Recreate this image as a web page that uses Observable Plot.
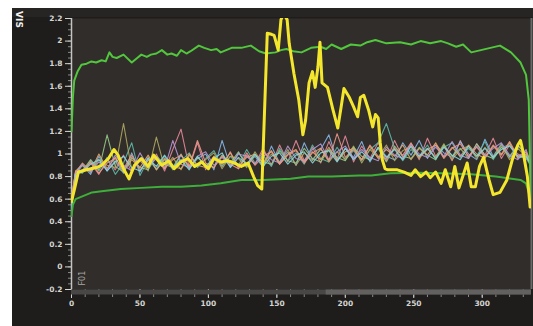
<!DOCTYPE html>
<html><head><meta charset="utf-8">
<script src="https://cdn.jsdelivr.net/npm/d3@7"></script>
<script src="https://cdn.jsdelivr.net/npm/@observablehq/plot@0.6"></script>
<style>
html,body{margin:0;padding:0;background:#fff;}
#wrap{position:relative;width:533px;height:326px;overflow:hidden;background:#1e1d1b;}
#wrap svg{position:absolute;left:0;top:0;z-index:1;}
.wt{position:absolute;left:0;top:0;width:533px;height:8px;background:#fff;z-index:3;}
.wl{position:absolute;left:0;top:0;width:12px;height:326px;background:#fff;z-index:3;}
.band{position:absolute;left:12px;top:8px;width:521px;height:9px;background:#262523;z-index:0;}
</style>
</head><body>
<div id="wrap"><div class="wt"></div><div class="wl"></div><div class="band"></div></div>
<script>
// ---- tick labels ----
const yTicks = [-0.2,0,0.2,0.4,0.6,0.8,1,1.2,1.4,1.6,1.8,2,2.2];
const xTicks = [0,50,100,150,200,250,300];

// ---- thin noisy series (shared x) ----
const thinX = [0,3,8,14,20,26,32,38,44,50,56,62,68,74,80,86,92,98,104,110,116,122,128,134,140,146,152,158,164,170,176,182,188,194,200,206,212,218,224,230,236,242,248,254,260,266,272,278,284,290,296,302,308,314,320,326,332,335];
const thinColors = ["#e8889a","#88b8e8","#60b8a8","#b0a860","#e8a868","#98c888","#b898d8","#f09888","#88d8e0"];
const s1 = [0.58,0.83,0.86,0.92,0.82,0.95,0.86,0.99,0.84,0.94,0.87,1.00,0.85,1.04,1.22,0.88,1.10,0.86,0.98,0.89,1.02,0.87,0.99,0.91,1.05,0.90,1.08,0.93,1.12,0.94,1.06,0.92,1.11,0.95,1.16,0.93,1.07,0.96,1.10,0.94,1.12,0.97,1.08,0.95,1.14,0.98,1.07,0.94,1.12,0.97,1.09,0.99,1.14,0.96,1.08,1.00,0.96,0.92];
const s2 = [0.52,0.82,0.90,0.82,0.98,0.85,0.94,0.83,1.01,0.84,0.97,0.86,0.95,0.87,0.99,0.88,0.96,1.00,0.86,1.12,0.89,1.01,0.91,0.98,0.88,1.07,0.92,1.02,0.90,1.10,0.95,1.04,1.17,0.94,1.05,0.97,1.11,0.93,1.06,0.98,0.95,1.10,0.99,1.12,0.96,1.08,1.01,0.97,1.11,1.00,0.95,1.13,0.98,1.09,0.97,1.07,1.01,0.94];
const s3 = [0.55,0.84,0.83,0.94,0.85,0.97,0.82,0.92,1.10,0.81,0.95,0.87,0.98,0.86,0.94,1.01,0.88,0.96,1.03,0.89,0.98,0.90,1.04,0.92,0.99,0.89,1.05,0.94,1.01,0.91,1.08,0.96,0.93,1.06,0.95,1.03,0.94,1.04,1.10,1.27,1.05,0.94,1.04,0.98,1.08,0.95,1.06,1.10,0.97,1.05,0.98,1.11,0.95,1.06,1.08,0.97,0.97,0.90];
const s4 = [0.60,0.85,0.90,0.84,0.95,0.90,0.88,1.27,0.86,0.96,0.85,1.15,0.88,0.97,0.86,0.99,0.89,0.95,1.01,0.87,0.98,0.96,0.88,1.02,0.91,1.00,0.93,1.04,0.90,1.01,0.94,1.05,0.93,1.02,0.95,1.07,0.92,1.04,0.97,1.08,0.94,1.03,1.06,0.96,1.05,0.97,1.09,0.95,1.04,1.07,0.96,1.06,0.97,1.08,0.95,1.05,0.98,0.93];
const s5 = [0.62,0.84,0.92,0.85,1.00,0.87,0.97,0.84,0.95,0.88,0.99,0.86,0.96,0.89,0.87,1.00,0.90,0.88,0.98,0.91,1.01,0.89,0.97,1.00,0.92,1.03,0.91,1.00,1.04,0.93,1.02,0.95,1.06,0.94,1.02,1.05,0.95,1.07,0.96,1.04,0.98,1.08,0.95,1.05,0.99,1.10,0.97,1.06,0.98,1.08,1.00,0.96,1.07,0.99,1.10,0.96,1.00,0.92];
const s6 = [0.56,0.83,0.85,0.95,0.86,1.17,0.89,0.84,0.97,0.88,0.86,0.98,0.91,0.88,1.00,0.87,0.97,0.90,0.88,0.99,0.92,1.02,0.89,0.99,0.93,0.91,1.03,0.94,0.92,1.05,0.96,0.93,1.04,0.97,0.94,1.06,0.98,0.95,1.05,0.93,1.07,0.98,0.96,1.06,0.99,0.95,1.08,0.98,1.05,0.96,1.09,0.99,0.96,1.06,0.98,1.08,0.99,0.91];
const s7 = [0.54,0.83,0.91,0.84,0.93,0.86,0.99,0.90,0.85,1.01,0.89,0.96,0.87,1.12,0.91,0.88,0.98,1.02,0.90,0.97,0.89,1.00,0.98,0.91,1.02,0.95,0.92,1.07,0.96,0.94,1.04,1.09,0.95,1.02,1.07,0.96,1.04,0.97,0.94,1.06,0.99,0.96,1.09,1.00,0.97,1.06,0.98,1.11,0.99,0.96,1.07,0.98,1.05,1.10,0.99,0.95,1.04,0.93];
const s8 = [0.60,0.85,0.84,0.93,0.83,0.92,0.96,0.87,0.99,0.86,0.94,0.97,0.87,0.95,0.99,0.89,1.12,0.92,0.88,0.98,0.91,0.87,1.01,0.90,0.98,1.02,0.91,0.99,1.03,0.92,1.01,1.05,0.94,1.18,0.97,1.04,0.95,1.08,0.98,0.96,1.05,0.99,1.10,0.97,1.04,1.08,0.96,1.05,1.09,0.98,1.06,0.97,1.08,1.00,1.11,0.98,1.02,0.95];
const s9 = [0.50,0.82,0.84,0.91,0.95,0.85,0.93,0.98,0.88,0.85,0.96,0.89,0.99,0.88,0.95,0.86,0.98,0.89,0.96,1.01,0.88,0.97,0.91,1.00,0.89,0.98,1.01,0.91,0.99,1.02,0.92,1.01,1.03,0.93,1.05,0.95,1.02,0.94,1.06,0.97,1.04,0.95,1.07,0.98,1.05,0.96,1.06,0.99,0.95,1.07,0.98,1.05,0.97,1.04,1.07,0.98,0.98,0.92];
const thinSeries = [s1,s2,s3,s4,s5,s6,s7,s8,s9];

// ---- yellow series ----
const yelX = [0,2,5,11,18,22,27,31,34,38,42,46,51,56,60,66,71,75,80,85,90,95,100,104,109,114,119,124,129,133,136,139,143,146,148,151,153,155,157.5,159,162.5,166,169,171,173.5,176,178,180,181.5,183,187,191,194.5,197,199,203,206,209,211,213.5,217,220,222,224,225.5,227,229,231,238,243,248,251,255,259,262,266,270,273,277,280,283,286,289,292,295,298,301,305,308,313,318,322,326,328,330,333,335];
const yelV = [0.58,0.68,0.84,0.86,0.88,0.90,0.96,1.04,0.99,0.87,0.78,0.90,0.96,0.89,0.99,0.90,0.94,0.87,0.93,0.96,0.89,0.93,0.87,0.96,0.93,0.94,0.92,0.89,0.92,0.80,0.72,0.69,2.07,2.06,2.05,1.92,2.19,2.24,2.19,1.98,1.71,1.48,1.17,1.30,1.63,1.73,1.59,1.77,1.99,1.63,1.59,1.39,1.23,1.42,1.58,1.50,1.42,1.33,1.50,1.52,1.39,1.24,1.35,1.32,1.10,0.95,0.87,0.86,0.86,0.84,0.81,0.86,0.80,0.84,0.79,0.84,0.74,0.86,0.71,0.89,0.70,0.81,0.92,0.71,0.71,0.89,0.97,0.77,0.64,0.66,0.77,0.95,1.08,1.12,1.01,0.80,0.53];

// ---- upper green ----
const gUX = [0,1,2,4.4,7.3,11,14.6,18,22,25,27.7,30,33,38,44,48,51,55,58,62,66,70,73,77,80,84,87,93,97,102,106,109,113,117,124,131,137,142,149,153,157,162,168,175,182,186,190,197,204,211,216,222,230,240,248,255,262,270,275,281,286,292,299,306,313,321,328,332,334,335.5];
const gUV = [1.20,1.50,1.65,1.73,1.79,1.80,1.82,1.81,1.83,1.82,1.90,1.86,1.85,1.88,1.81,1.85,1.88,1.86,1.88,1.89,1.92,1.88,1.89,1.87,1.92,1.89,1.91,1.96,1.94,1.92,1.93,1.90,1.92,1.94,1.94,1.96,1.91,1.89,1.90,1.92,1.93,1.91,1.90,1.94,1.95,1.93,1.97,1.93,1.97,1.96,1.99,2.01,1.98,1.99,1.97,2.00,1.98,2.00,1.98,1.95,1.97,1.90,1.92,1.94,1.96,1.90,1.81,1.70,1.48,0.55];

// ---- lower green ----
const gLX = [0,1,3,7,15,22,36,51,66,80,95,109,124,140,160,173,190,210,219,233,255,270,292,310,328,332,335];
const gLV = [0.45,0.55,0.60,0.62,0.66,0.67,0.69,0.70,0.71,0.71,0.72,0.74,0.77,0.77,0.78,0.80,0.80,0.81,0.81,0.83,0.835,0.83,0.82,0.80,0.77,0.74,0.62];

const thinData = [];
thinSeries.forEach((s, k) => s.forEach((v, i) => { if (thinX[i] !== undefined) thinData.push({x: thinX[i], y: v, k}); }));
const yel = yelX.map((x, i) => ({x, y: yelV[i]})).filter(d => d.y !== undefined);
const gU = gUX.map((x, i) => ({x, y: gUV[i]})).filter(d => d.y !== undefined);
const gL = gLX.map((x, i) => ({x, y: gLV[i]})).filter(d => d.y !== undefined);

const fmt = d => String(+d.toFixed(1));

const chart = Plot.plot({
  width: 533, height: 326,
  marginLeft: 71, marginRight: 2, marginTop: 18, marginBottom: 37,
  style: {background: "transparent", fontFamily: "DejaVu Sans", fontSize: "7.5px", fontWeight: "bold"},
  x: {domain: [0, 336], axis: null},
  y: {domain: [-0.2, 2.2], axis: null},
  marks: [
    Plot.frame({fill: "#302d2b", stroke: null}),
    Plot.axisY({ticks: d3.range(-0.2, 2.2001, 0.05), tickSize: 3, text: null, label: null, color: "#8a8a88"}),
    Plot.axisY({ticks: yTicks, tickSize: 6, tickPadding: 3, tickFormat: fmt, label: null, color: "#d4d4d2"}),
    Plot.axisX({ticks: d3.range(0, 336, 10), tickSize: 8, text: null, label: null, color: "#8a8a88"}),
    Plot.axisX({ticks: xTicks, tickSize: 9, tickPadding: 2, tickFormat: fmt, label: null, color: "#d4d4d2"}),
    Plot.ruleY([-0.2], {stroke: "#484745", strokeWidth: 5, dy: 2.5}),
    Plot.ruleY([-0.2], {x1: 186, x2: 336, stroke: "#626160", strokeWidth: 5, dy: 2.5}),
    Plot.ruleX([0], {stroke: "#c4c4c2", strokeWidth: 1.5}),
    Plot.ruleX([336], {stroke: "#6a6a68", strokeWidth: 2}),
    Plot.text(["F01"], {frameAnchor: "bottom-left", rotate: -90, textAnchor: "start", dx: 13, dy: -4, fill: "#a8a8a6", fontSize: 8, fontWeight: "normal"}),
    Plot.text(["VIS"], {frameAnchor: "top-left", rotate: 90, textAnchor: "middle", dx: -49, dy: 1, fill: "#f0f0f0", fontSize: 9, fontWeight: "bold"}),
    Plot.line(thinData, {x: "x", y: "y", z: "k", stroke: d => thinColors[d.k], strokeWidth: 1.1, strokeOpacity: 0.9, clip: true}),
    Plot.line(gL, {x: "x", y: "y", stroke: "#3fae3a", strokeWidth: 2, clip: true}),
    Plot.line(gU, {x: "x", y: "y", stroke: "#52c63c", strokeWidth: 2, clip: true}),
    Plot.line(yel, {x: "x", y: "y", stroke: "#f4e62c", strokeWidth: 3, clip: true, strokeLinejoin: "round"})
  ]
});
document.getElementById("wrap").appendChild(chart);
</script>
</body></html>
